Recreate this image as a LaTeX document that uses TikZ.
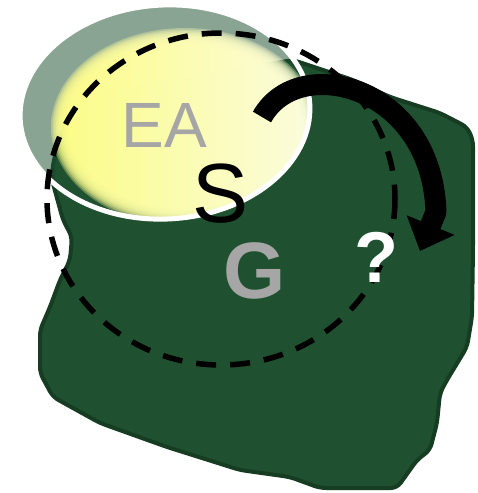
\documentclass[tikz,border=0pt]{standalone}
\usepackage{fontspec}
\setmainfont{Liberation Sans}
\usetikzlibrary{arrows.meta}
\definecolor{blobgreen}{RGB}{31,81,48}
\definecolor{blobedge}{RGB}{22,60,34}
\definecolor{labelgray}{RGB}{166,166,166}
\definecolor{glowleft}{RGB}{255,255,140}
\definecolor{glowright}{RGB}{255,255,222}

\begin{document}
\begin{tikzpicture}[x=1pt, y=-1pt,
  bigtext/.style={inner sep=0pt, font=\fontsize{#1}{#1}\selectfont}]
  \useasboundingbox (0,0) rectangle (477,493);

  % Territory
  \filldraw[fill=blobgreen, draw=blobedge, line width=4pt, rounded corners=6pt]
    (80,97) -- (293,60) -- (353,80) -- (390,97) -- (440,113) -- (467,127)
    -- (473,140) -- (473,250) -- (472,317) -- (467,347) -- (447,380)
    -- (440,393) -- (437,423) -- (430,450) -- (417,460) -- (397,488)
    -- (320,488) -- (290,477) -- (240,470) -- (167,447) -- (100,423)
    -- (53,397) -- (40,373) -- (40,330) -- (50,307) -- (60,280)
    -- (70,260) -- (72,237) -- (63,220) -- (52,180) -- (53,163)
    -- (63,130) -- cycle;

  % Lit ellipse
  \coordinate (ellc) at (165,112);
  \fill[blobgreen, fill opacity=0.52, rotate around={3:(ellc)}]
    (ellc) ellipse [x radius=145, y radius=107];
  \begin{scope}
    \clip[rotate around={3:(ellc)}] (ellc) ellipse [x radius=145, y radius=107];
    % soft glow, built from stacked layers
    \foreach \k in {0,...,11}{
      \shade[left color=glowleft, right color=glowright, opacity=0.32]
        (185,127) ellipse [x radius=134-1.6*\k, y radius=99-1.6*\k];
    }
  \end{scope}
  \draw[white, line width=5pt, rotate around={3:(ellc)}]
    (ellc) ellipse [x radius=145, y radius=107];

  % Dashed loop
  \coordinate (loopc) at (221,199);
  \draw[black, line width=5.5pt, dash pattern=on 20pt off 14pt]
    (loopc) ellipse [x radius=174, y radius=166];

  % Curved arrow
  \coordinate (arrowtail) at (262,117);
  \coordinate (arrowbend) at (436,212);
  \coordinate (arrowtip) at (420,251);
  \draw[line width=21pt, line join=round, -{Triangle[width=50pt, length=28pt]}]
    (arrowtail) .. controls (298,52) and (432,85) .. (arrowbend) -- (arrowtip);

  % Labels
  \node[bigtext=64, text=labelgray] (ea) at (164,125) {EA};
  \node[bigtext=84] (s) at (221,194) {S};
  \node[bigtext=80, text=labelgray] (g) at (255,271) {\bfseries G};
  \node[bigtext=72, text=white] (q) at (376,257) {\bfseries ?};
\end{tikzpicture}
\end{document}
